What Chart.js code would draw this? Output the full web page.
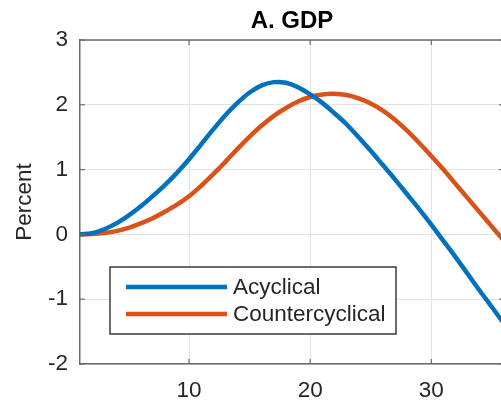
<!DOCTYPE html>
<html><head><meta charset="utf-8">
<script src="https://cdn.jsdelivr.net/npm/chart.js@4"></script>
<style>
html,body{margin:0;padding:0;overflow:hidden;background:#fff;width:501px;height:403px}
#wrap{position:absolute;left:0;top:0;width:512px;height:403px}
canvas{display:block}
</style>
</head><body>
<div id="wrap"><canvas id="c" width="512" height="403" style="width:512px;height:403px"></canvas></div>
<script>
// ---- data ----
const periods = [1,2,3,4,5,6,7,8,9,10,11,12,13,14,15,16,17,18,19,20,21,22,23,24,25,26,27,28,29,30,31,32,33,34,35,36];
const acyclical = [0,0.02,0.08,0.17,0.29,0.43,0.59,0.76,0.95,1.16,1.39,1.62,1.84,2.03,2.19,2.30,2.35,2.34,2.27,2.16,2.03,1.87,1.70,1.50,1.29,1.07,0.85,0.62,0.39,0.15,-0.10,-0.35,-0.61,-0.87,-1.12,-1.38];
const countercyclical = [0,0.005,0.02,0.05,0.10,0.17,0.25,0.35,0.46,0.59,0.75,0.93,1.12,1.32,1.51,1.68,1.83,1.95,2.05,2.12,2.16,2.17,2.15,2.10,2.02,1.91,1.77,1.60,1.41,1.21,1.00,0.78,0.56,0.34,0.12,-0.10];
const seriesNames = ['Acyclical','Countercyclical'];
const xTicks = [10,20,30];
const yTicks = [-2,-1,0,1,2,3];
const chartTitle = 'A. GDP';
const yAxisLabel = 'Percent';

const FONT = '"Liberation Sans", Arial, Helvetica, sans-serif';
const FS = 22.5;
const TXT = '#262626';
const AXIS = '#6b6b6b';
const GRID = '#e3e3e3';

const overlay = {
  id: 'overlay',
  afterDatasetsDraw(chart) {
    const ctx = chart.ctx, a = chart.chartArea;
    const xs = chart.scales.x, ys = chart.scales.y;
    ctx.save();
    // top / right border
    ctx.strokeStyle = AXIS; ctx.lineWidth = 1.5;
    ctx.beginPath(); ctx.moveTo(a.left, a.top); ctx.lineTo(a.right, a.top); ctx.stroke();
    ctx.beginPath(); ctx.moveTo(a.right, a.top); ctx.lineTo(a.right, a.bottom); ctx.stroke();
    // inside ticks
    ctx.lineWidth = 1.2;
    xTicks.forEach(v => {
      const px = xs.getPixelForValue(v);
      ctx.beginPath(); ctx.moveTo(px, a.bottom); ctx.lineTo(px, a.bottom - 5); ctx.stroke();
      ctx.beginPath(); ctx.moveTo(px, a.top); ctx.lineTo(px, a.top + 5); ctx.stroke();
    });
    yTicks.forEach(v => {
      const py = ys.getPixelForValue(v);
      ctx.beginPath(); ctx.moveTo(a.left, py); ctx.lineTo(a.left + 5, py); ctx.stroke();
      ctx.beginPath(); ctx.moveTo(a.right, py); ctx.lineTo(a.right - 5, py); ctx.stroke();
    });
    // legend
    const bx = a.left + 30, by = a.bottom - 97, bw = 286, bh = 67;
    ctx.fillStyle = '#fff'; ctx.fillRect(bx, by, bw, bh);
    ctx.strokeStyle = '#3a3a3a'; ctx.lineWidth = 1.5; ctx.strokeRect(bx, by, bw, bh);
    ctx.font = FS + 'px ' + FONT; ctx.textBaseline = 'middle'; ctx.textAlign = 'left';
    chart.data.datasets.forEach((ds, i) => {
      const y = by + 20 + i * 27;
      ctx.strokeStyle = ds.borderColor; ctx.lineWidth = 4.5;
      ctx.beginPath(); ctx.moveTo(bx + 16, y); ctx.lineTo(bx + 117, y); ctx.stroke();
      ctx.fillStyle = TXT; ctx.fillText(ds.label, bx + 123, y + 1);
    });
    // title
    ctx.font = 'bold 24px ' + FONT; ctx.textAlign = 'center'; ctx.textBaseline = 'alphabetic';
    ctx.fillStyle = '#000';
    ctx.fillText(chartTitle, (a.left + a.right) / 2, 28);
    ctx.restore();
  }
};

const toPoints = arr => periods.map((p, i) => ({x: p, y: arr[i]}));

new Chart(document.getElementById('c'), {
  type: 'line',
  data: {
    datasets: [
      {label: seriesNames[0], data: toPoints(acyclical), borderColor: '#0072BD', borderWidth: 4.5, pointRadius: 0, tension: 0.3, fill: false},
      {label: seriesNames[1], data: toPoints(countercyclical), borderColor: '#D95319', borderWidth: 4.5, pointRadius: 0, tension: 0.3, fill: false}
    ]
  },
  options: {
    responsive: false, animation: false, devicePixelRatio: 1,
    layout: {padding: {top: 40, right: 8, left: 0, bottom: 0}},
    plugins: {legend: {display: false}, title: {display: false}, tooltip: {enabled: false}},
    scales: {
      x: {
        type: 'linear', min: 1, max: 36,
        afterBuildTicks: s => { s.ticks = xTicks.map(v => ({value: v})); },
        afterFit: s => { s.height = 39; },
        grid: {color: GRID, lineWidth: 1, drawTicks: false},
        border: {display: true, color: AXIS, width: 1.5},
        ticks: {font: {family: FONT, size: FS}, color: TXT, padding: 13, maxRotation: 0}
      },
      y: {
        min: -2, max: 3,
        afterBuildTicks: s => { s.ticks = yTicks.map(v => ({value: v})); },
        afterFit: s => { s.width = 80; },
        grid: {color: GRID, lineWidth: 1, drawTicks: false},
        border: {display: true, color: AXIS, width: 1.5},
        ticks: {font: {family: FONT, size: FS}, color: TXT, padding: 12},
        title: {display: true, text: yAxisLabel, font: {family: FONT, size: FS}, color: TXT, padding: {top: 11, bottom: 0}}
      }
    }
  },
  plugins: [overlay]
});
</script>
</body></html>
